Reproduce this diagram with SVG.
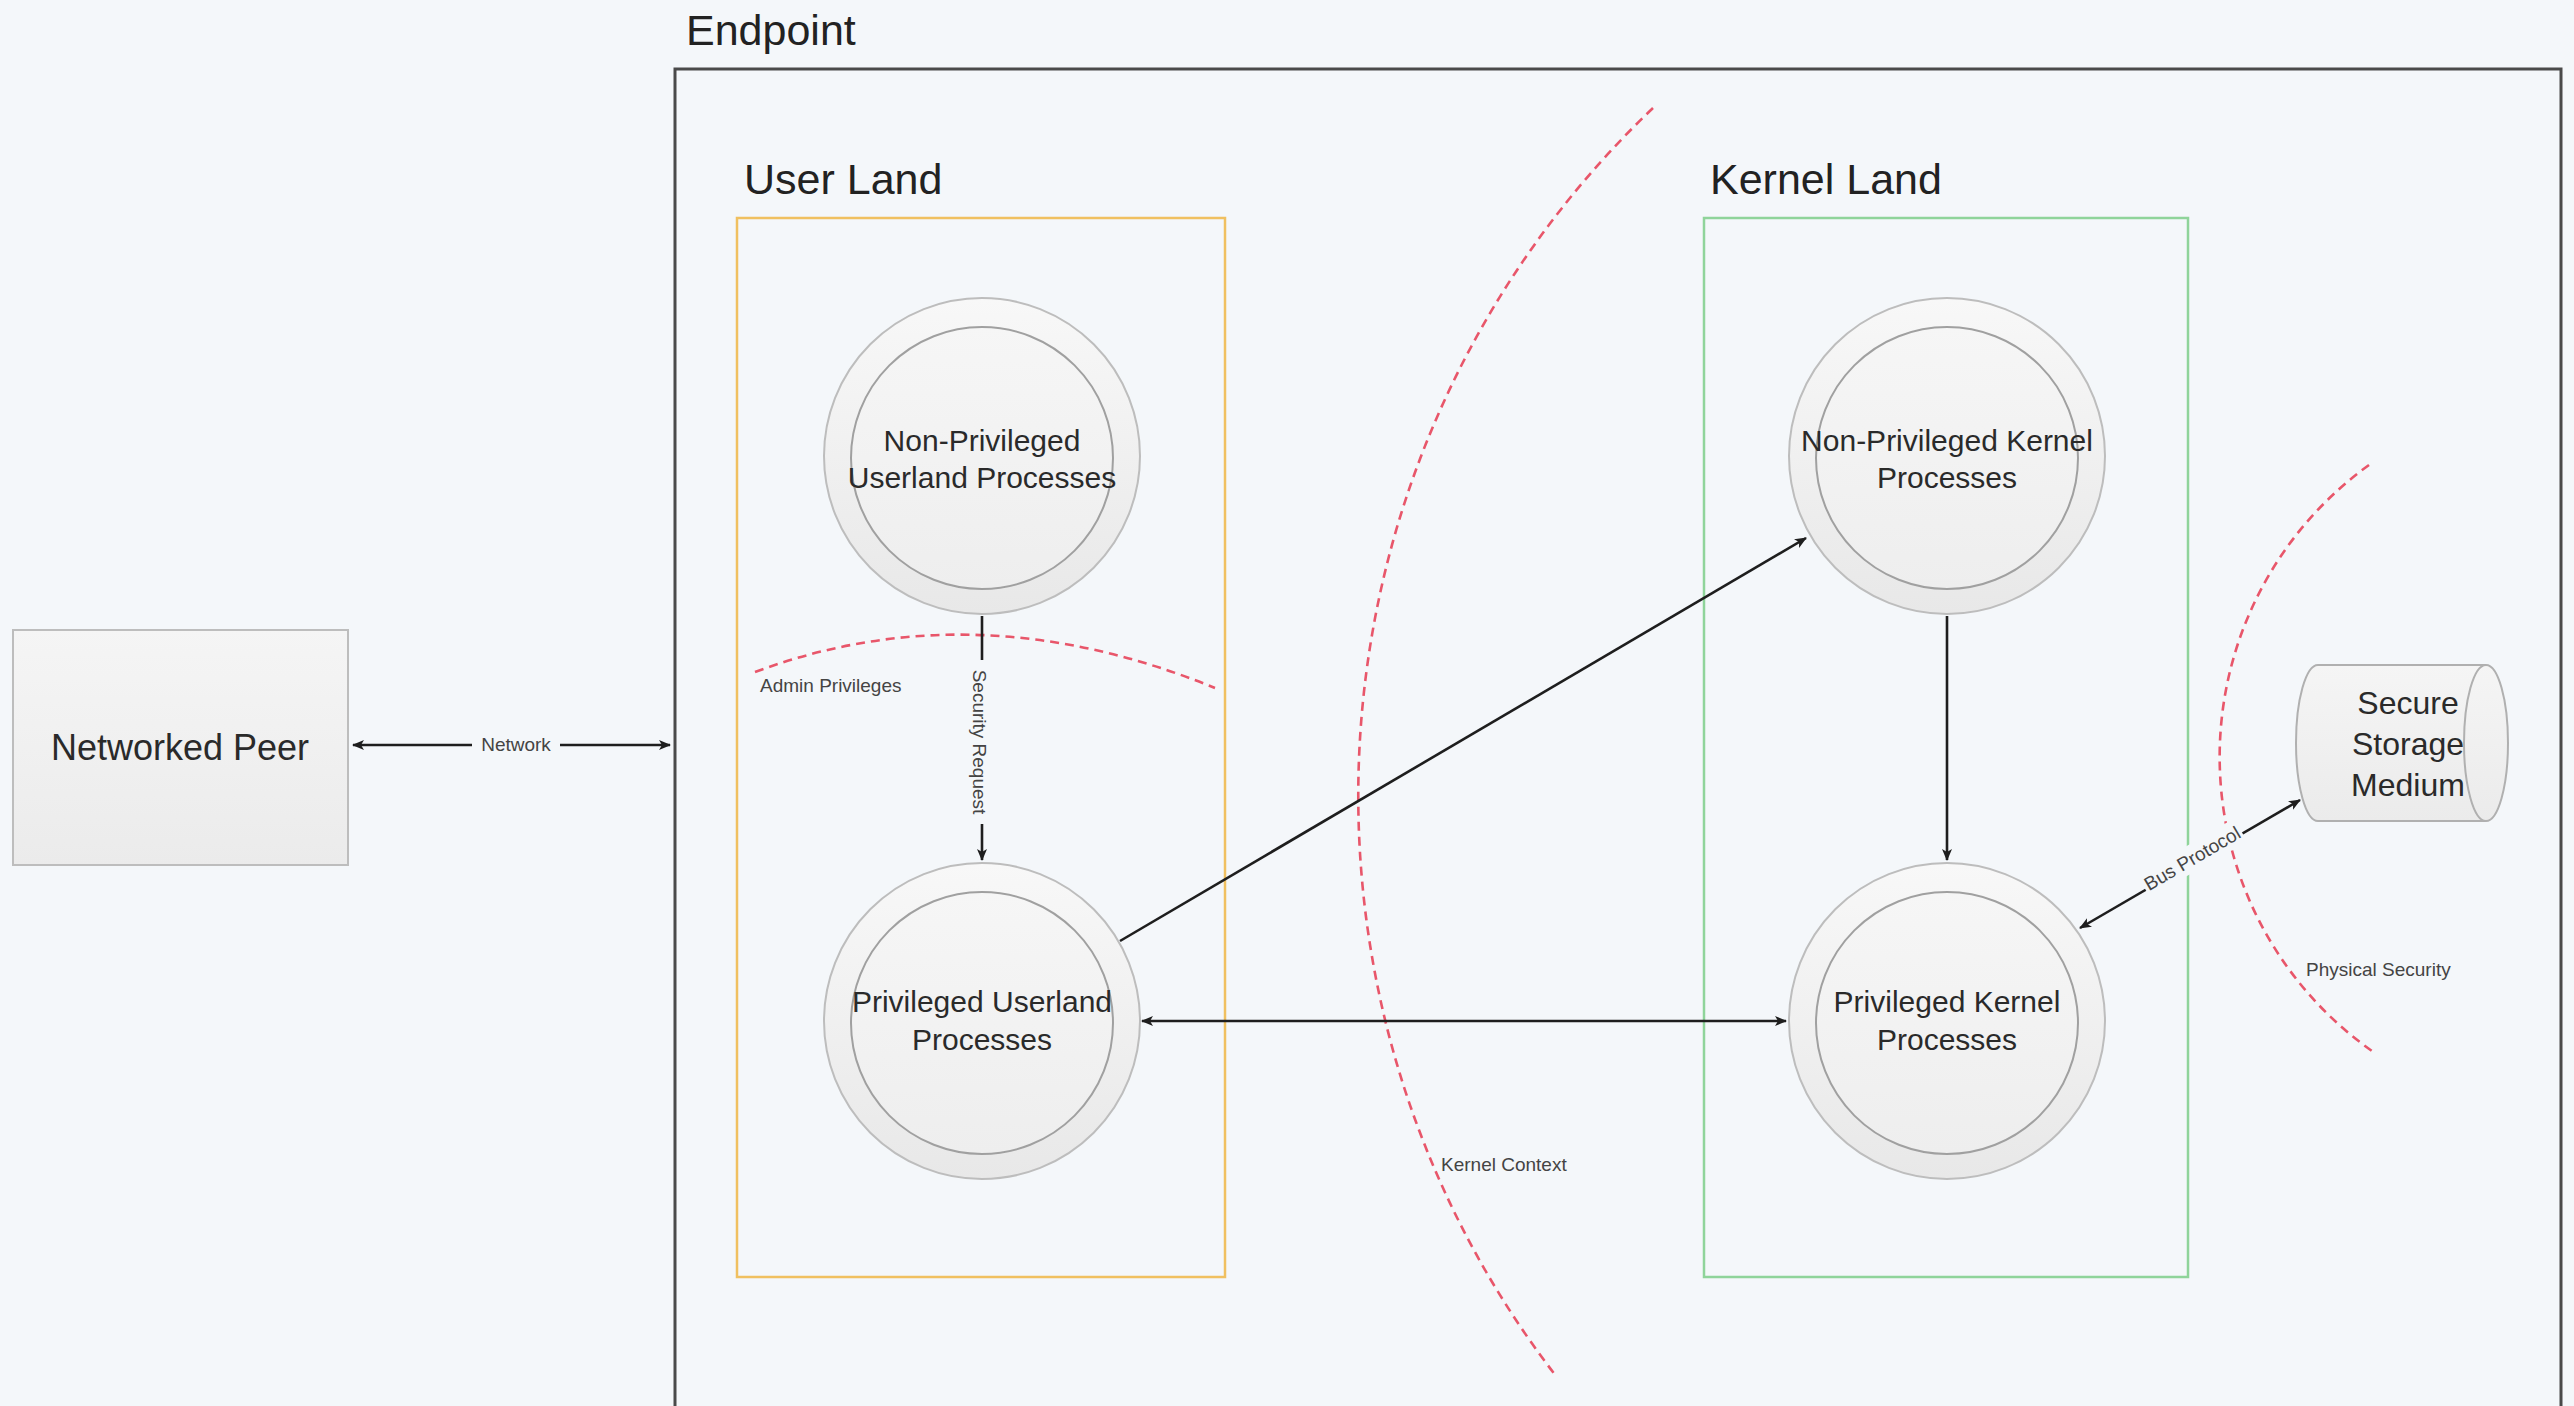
<svg xmlns="http://www.w3.org/2000/svg" width="2574" height="1406" viewBox="0 0 2574 1406">
<style>
.big{font-family:"Liberation Sans",Arial,sans-serif;font-size:43px;fill:#222}
.node{font-family:"Liberation Sans",Arial,sans-serif;font-size:30px;fill:#2a2a2a;text-anchor:middle}
.lbl{font-family:"Liberation Sans",Arial,sans-serif;font-size:19px;fill:#444}
.conn{stroke:#1e1e1e;stroke-width:2.6;fill:none}
.bound{stroke:#e8566a;stroke-width:2.6;fill:none;stroke-dasharray:9 6}
.outer{fill:url(#cg);stroke:#bdbdbd;stroke-width:2}
.inner{fill:url(#cg2);stroke:#a0a0a0;stroke-width:2}
</style>
<defs>
<linearGradient id="cg" x1="0" y1="0" x2="0" y2="1"><stop offset="0" stop-color="#f8f8f8"/><stop offset="1" stop-color="#e8e8e8"/></linearGradient>
<linearGradient id="cg2" x1="0" y1="0" x2="0" y2="1"><stop offset="0" stop-color="#f6f6f6"/><stop offset="1" stop-color="#eeeeee"/></linearGradient>
<linearGradient id="bg2" x1="0" y1="0" x2="0" y2="1"><stop offset="0" stop-color="#f5f5f5"/><stop offset="1" stop-color="#ebebeb"/></linearGradient>
<marker id="ah" viewBox="0 0 12 10" refX="11" refY="5" markerWidth="12" markerHeight="10" markerUnits="userSpaceOnUse" orient="auto-start-reverse">
<path d="M0,0 L12,5 L0,10 L3,5 Z" fill="#1e1e1e"/>
</marker>
</defs>
<rect width="2574" height="1406" fill="#f4f7fa"/>

<g id="endpoint">
<rect x="675" y="69" width="1886" height="1400" fill="none" stroke="#4a4a4a" stroke-width="3"/>
<text class="big" x="686" y="45">Endpoint</text>
</g>

<g id="user-land">
<rect x="737" y="218" width="488" height="1059" fill="none" stroke="#f0c060" stroke-width="2.5"/>
<text class="big" x="744" y="194">User Land</text>
</g>

<g id="kernel-land">
<rect x="1704" y="218" width="484" height="1059" fill="none" stroke="#8fd49a" stroke-width="2.5"/>
<text class="big" x="1710" y="194">Kernel Land</text>
</g>

<g id="boundaries">
<path class="bound" d="M 755 672 Q 975 590 1215 688"/>
<text class="lbl" x="760" y="692">Admin Privileges</text>
<path class="bound" d="M 1653 108 A 950 950 0 0 0 1556 1376"/>
<text class="lbl" x="1441" y="1171">Kernel Context</text>
<path class="bound" d="M 2369 465 A 360 360 0 0 0 2372 1051"/>
<text class="lbl" x="2306" y="976">Physical Security</text>
</g>

<g id="networked-peer">
<rect x="13" y="630" width="335" height="235" fill="url(#bg2)" stroke="#bdbdbd" stroke-width="2"/>
<text class="node" x="180" y="760" style="font-size:36px">Networked Peer</text>
</g>

<g id="non-priv-userland">
<circle class="outer" cx="982" cy="456" r="158"/>
<circle class="inner" cx="982" cy="458" r="131"/>
<text class="node" x="982" y="451">Non-Privileged</text>
<text class="node" x="982" y="488">Userland Processes</text>
</g>

<g id="priv-userland">
<circle class="outer" cx="982" cy="1021" r="158"/>
<circle class="inner" cx="982" cy="1023" r="131"/>
<text class="node" x="982" y="1012">Privileged Userland</text>
<text class="node" x="982" y="1050">Processes</text>
</g>

<g id="non-priv-kernel">
<circle class="outer" cx="1947" cy="456" r="158"/>
<circle class="inner" cx="1947" cy="458" r="131"/>
<text class="node" x="1947" y="451">Non-Privileged Kernel</text>
<text class="node" x="1947" y="488">Processes</text>
</g>

<g id="priv-kernel">
<circle class="outer" cx="1947" cy="1021" r="158"/>
<circle class="inner" cx="1947" cy="1023" r="131"/>
<text class="node" x="1947" y="1012">Privileged Kernel</text>
<text class="node" x="1947" y="1050">Processes</text>
</g>

<g id="secure-storage">
<path d="M 2318 665 L 2486 665 A 22 78 0 0 1 2486 821 L 2318 821 A 22 78 0 0 1 2318 665 Z" fill="url(#bg2)" stroke="#b0b0b0" stroke-width="2"/>
<path d="M 2486 665 A 22 78 0 0 0 2486 821" fill="none" stroke="#b0b0b0" stroke-width="2"/>
<text class="node" x="2408" y="714" style="font-size:32px">Secure</text>
<text class="node" x="2408" y="755" style="font-size:32px">Storage</text>
<text class="node" x="2408" y="796" style="font-size:32px">Medium</text>
</g>

<g id="connectors">
<line class="conn" x1="353" y1="745" x2="670" y2="745" marker-start="url(#ah)" marker-end="url(#ah)"/>
<rect x="472" y="732" width="88" height="26" fill="#f4f7fa"/>
<text class="lbl" x="516" y="751" text-anchor="middle">Network</text>

<line class="conn" x1="982" y1="616" x2="982" y2="860" marker-end="url(#ah)"/>
<rect x="966" y="660" width="28" height="164" fill="#f4f7fa"/>
<text class="lbl" transform="translate(973,742) rotate(90)" text-anchor="middle">Security Request</text>

<line class="conn" x1="1120" y1="941" x2="1806" y2="538" marker-end="url(#ah)"/>
<line class="conn" x1="1142" y1="1021" x2="1786" y2="1021" marker-start="url(#ah)" marker-end="url(#ah)"/>
<line class="conn" x1="1947" y1="616" x2="1947" y2="860" marker-end="url(#ah)"/>

<line class="conn" x1="2080" y1="928" x2="2300" y2="800" marker-start="url(#ah)" marker-end="url(#ah)"/>
<rect x="-56" y="-13" width="112" height="26" fill="#f4f7fa" transform="translate(2192,858) rotate(-30.2)"/>
<text class="lbl" transform="translate(2192,858) rotate(-30.2)" text-anchor="middle" y="7">Bus Protocol</text>
</g>
</svg>
